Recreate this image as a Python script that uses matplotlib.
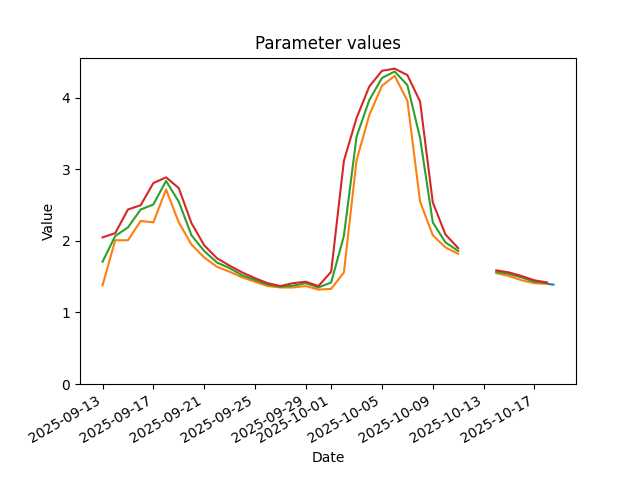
import numpy as np
import pandas as pd
import matplotlib.pyplot as plt

# daily values, 2025-09-13 .. 2025-10-18 (NaN = missing days)
dates = pd.date_range("2025-09-13", "2025-10-18", freq="D")
nan = np.nan

lower = [1.38, 2.01, 2.01, 2.28, 2.26, 2.72, 2.26, 1.95, 1.77, 1.64,
         1.57, 1.49, 1.43, 1.37, 1.35, 1.35, 1.37, 1.32, 1.33, 1.56,
         3.13, 3.76, 4.17, 4.31, 3.96, 2.55, 2.08, 1.91, 1.82, nan,
         nan, 1.55, 1.51, 1.45, 1.41, 1.40]
mid = [1.71, 2.07, 2.19, 2.44, 2.51, 2.84, 2.55, 2.08, 1.86, 1.70,
       1.62, 1.52, 1.455, 1.39, 1.36, 1.375, 1.41, 1.35, 1.42, 2.07,
       3.46, 3.97, 4.28, 4.37, 4.18, 3.44, 2.26, 1.98, 1.86, nan,
       nan, 1.57, 1.54, 1.49, 1.43, 1.41]
upper = [2.05, 2.11, 2.44, 2.50, 2.81, 2.89, 2.74, 2.25, 1.94, 1.76,
         1.655, 1.56, 1.48, 1.41, 1.37, 1.41, 1.43, 1.37, 1.57, 3.12,
         3.72, 4.16, 4.38, 4.41, 4.32, 3.95, 2.54, 2.09, 1.90, nan,
         nan, 1.59, 1.56, 1.51, 1.45, 1.42]

# short central series at the very end
point_dates = pd.to_datetime(["2025-10-18 00:00", "2025-10-18 12:00"])
point_vals = [1.40, 1.39]

fig, ax = plt.subplots(figsize=(6.4, 4.8), dpi=100)
ax.plot(point_dates, point_vals, color="tab:blue")
ax.plot(dates, lower, color="tab:orange")
ax.plot(dates, mid, color="tab:green")
ax.plot(dates, upper, color="tab:red")

ax.set_ylim(bottom=0)
ax.set_title("Parameter values")
ax.set_xlabel("Date")
ax.set_ylabel("Value")
fig.autofmt_xdate()
fig.savefig("out.png")
